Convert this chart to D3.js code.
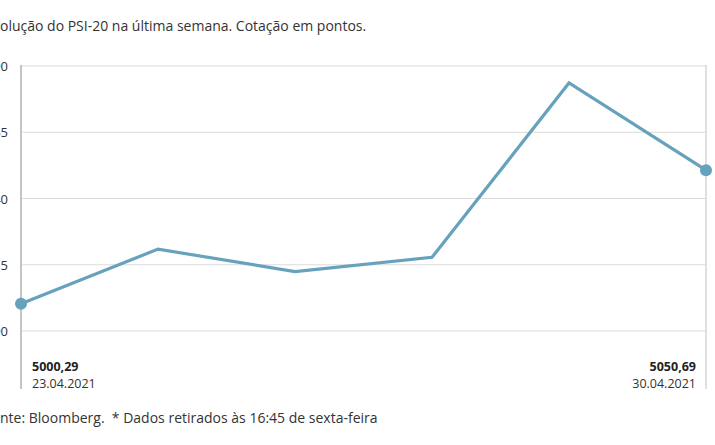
<!DOCTYPE html>
<html>
<head>
<meta charset="utf-8">
<script src="https://cdn.jsdelivr.net/npm/d3@7"></script>
<style>
  body { margin: 0; background: #fff; }
  svg { display: block; font-family: "Open Sans", sans-serif; }
</style>
</head>
<body>
<div id="chart"></div>
<script>
// PSI-20, fecho diario (23.04 a 30.04.2021)
var days = ['23.04.2021', '26.04.2021', '27.04.2021', '28.04.2021', '29.04.2021', '30.04.2021'];
var values = [5000.29, 5020.9, 5012.4, 5017.8, 5083.6, 5050.69];
var yTicks = [4990, 5015, 5040, 5065, 5090];
var title = 'Evolução do PSI-20 na última semana. Cotação em pontos.';
var source = 'Fonte: Bloomberg.  * Dados retirados às 16:45 de sexta-feira';

var blue = '#67a2bd';

var svg = d3.select('#chart')
  .append('svg')
  .attr('width', 715)
  .attr('height', 445);

var x = d3.scalePoint()
  .domain(days)
  .range([21, 706]);

var y = d3.scaleLinear()
  .domain([4990, 5090])
  .range([331, 66]);

// grelha
svg.append('g')
  .selectAll('line')
  .data(yTicks)
  .enter()
    .append('line')
    .attr('x1', 21)
    .attr('x2', 706)
    .attr('y1', function(d){return y(d);})
    .attr('y2', function(d){return y(d);})
    .attr('stroke', '#dcdcdc')
    .attr('stroke-width', 1.2);

// eixo esquerdo e direito
svg.append('line')
  .attr('x1', x(days[0])).attr('x2', x(days[0]))
  .attr('y1', y(5090) - 1).attr('y2', 389)
  .attr('stroke', '#c4c4c4').attr('stroke-width', 2);
svg.append('line')
  .attr('x1', x(days[5])).attr('x2', x(days[5]))
  .attr('y1', y(5090) - 1).attr('y2', 389)
  .attr('stroke', '#d6d6d6').attr('stroke-width', 1.5);

// rotulos do eixo y (cortados a esquerda, como no original)
svg.append('g')
  .selectAll('text')
  .data(yTicks)
  .enter()
    .append('text')
    .attr('x', 8)
    .attr('y', function(d){return y(d) + 5;})
    .attr('text-anchor', 'end')
    .attr('font-size', 13)
    .attr('fill', '#333')
    .text(function(d){return d;});

var line = d3.line()
  .x(function(d, i){return x(days[i]);})
  .y(function(d){return y(d);});

svg.append('path')
  .datum(values)
  .attr('d', line)
  .attr('fill', 'none')
  .attr('stroke', blue)
  .attr('stroke-width', 3.2)
  .attr('stroke-linejoin', 'miter');

svg.selectAll('circle.end')
  .data([0, values.length - 1])
  .enter()
    .append('circle')
    .classed('end', true)
    .attr('cx', function(i){return x(days[i]);})
    .attr('cy', function(i){return y(values[i]);})
    .attr('r', 6)
    .attr('fill', blue);

function fmt(v){ return v.toFixed(2).replace('.', ','); }

var ends = [
  {i: 0, x: 32, anchor: 'start'},
  {i: values.length - 1, x: 696, anchor: 'end'}
];
ends.forEach(function(e){
  svg.append('text')
    .attr('x', e.x).attr('y', 371)
    .attr('text-anchor', e.anchor)
    .attr('font-size', 12.5)
    .attr('font-weight', 'bold')
    .attr('fill', '#222')
    .text(fmt(values[e.i]));
  svg.append('text')
    .attr('x', e.x).attr('y', 388)
    .attr('text-anchor', e.anchor)
    .attr('font-size', 12.5)
    .attr('fill', '#333')
    .text(days[e.i]);
});

// titulo e fonte, deslocados para que as primeiras letras fiquem fora do quadro
function cutText(txt, hidden, ypos){
  var t = svg.append('text')
    .attr('y', ypos)
    .attr('font-size', 14)
    .attr('fill', '#333')
    .style('white-space', 'pre')
    .text(hidden);
  var w = t.node().getComputedTextLength();
  t.attr('x', -w).text(txt);
}
cutText(title, 'Ev', 31);
cutText(source, 'Fo', 423);
</script>
</body>
</html>
